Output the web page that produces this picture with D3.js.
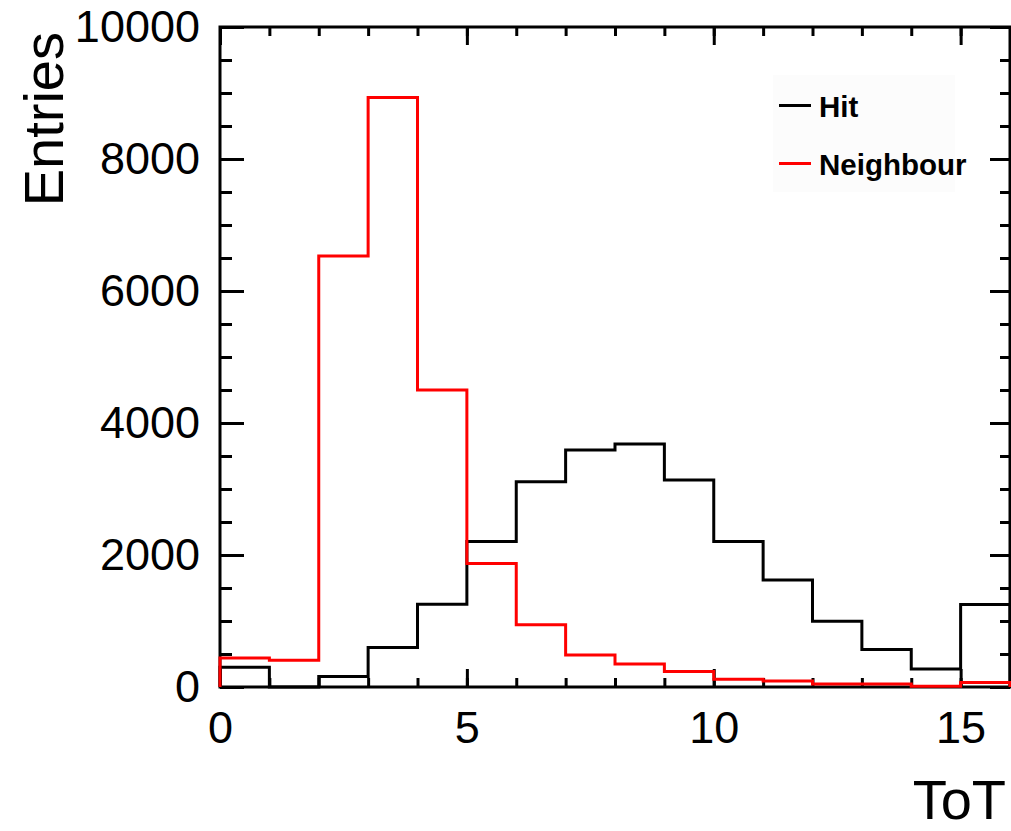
<!DOCTYPE html>
<meta charset="utf-8">
<head>
  <style>
    body { margin: 0; background: #fff; }
    .tick text { font-family: "Liberation Sans", Arial, Helvetica, sans-serif; font-size: 45px; fill: #000; }
    .tick line { stroke: #000; stroke-width: 3; }
    .title { font-family: "Liberation Sans", Arial, Helvetica, sans-serif; font-size: 56px; fill: #000; }
    .leg { font-family: "Liberation Sans", Arial, Helvetica, sans-serif; font-size: 29.5px; font-weight: bold; fill: #000; }
  </style>
  <script src="https://cdn.jsdelivr.net/npm/d3@7"></script>
</head>
<body>
  <svg width="1011" height="831"></svg>
  <script>

    // ToT bins 0..16, one entry per unit bin
    var binEdges = d3.range(0, 17);
    var hitCounts = [300, 0, 160, 600, 1255, 2205, 3110, 3590, 3680, 3135, 2205, 1620, 995, 570, 272, 1250];
    var neighbourCounts = [440, 405, 6530, 8930, 4500, 1870, 945, 485, 350, 235, 118, 90, 45, 45, 10, 70];

    var xMajor = [0, 5, 10, 15];
    var yMajor = [0, 2000, 4000, 6000, 8000, 10000];
    var xMinor = d3.range(0, 17);
    var yMinor = d3.range(0, 10001, 500);

    var seriesNames = ["Hit", "Neighbour"];
    var seriesColors = ["#000000", "#ff0000"];

    var svg = d3.select("svg");

    var x = d3.scaleLinear().domain([0, 16]).range([220, 1010]);
    var y = d3.scaleLinear().domain([0, 10000]).range([687, 27]);

    function clean(g) { g.select(".domain").remove(); }

    // bottom
    svg.append("g").attr("transform", "translate(0," + y(0) + ")")
      .call(d3.axisBottom(x).tickValues(xMinor).tickFormat("").tickSize(-9)).call(clean);
    svg.append("g").attr("transform", "translate(0," + y(0) + ")")
      .call(d3.axisBottom(x).tickValues(xMajor).tickFormat(d3.format("d")).tickSize(-18).tickPadding(24)).call(clean);
    // top
    svg.append("g").attr("transform", "translate(0," + y(10000) + ")")
      .call(d3.axisTop(x).tickValues(xMinor).tickFormat("").tickSize(-9)).call(clean);
    svg.append("g").attr("transform", "translate(0," + y(10000) + ")")
      .call(d3.axisTop(x).tickValues(xMajor).tickFormat("").tickSize(-18)).call(clean);
    // left
    svg.append("g").attr("transform", "translate(" + x(0) + ",0)")
      .call(d3.axisLeft(y).tickValues(yMinor).tickFormat("").tickSize(-12)).call(clean);
    svg.append("g").attr("transform", "translate(" + x(0) + ",0)")
      .call(d3.axisLeft(y).tickValues(yMajor).tickFormat(d3.format("d")).tickSize(-24).tickPadding(20)).call(clean);
    // right
    svg.append("g").attr("transform", "translate(" + x(16) + ",0)")
      .call(d3.axisRight(y).tickValues(yMinor).tickFormat("").tickSize(-10)).call(clean);
    svg.append("g").attr("transform", "translate(" + x(16) + ",0)")
      .call(d3.axisRight(y).tickValues(yMajor).tickFormat("").tickSize(-20)).call(clean);

    svg.append("rect")
      .attr("x", x(0)).attr("y", y(10000))
      .attr("width", x(16) - x(0)).attr("height", y(0) - y(10000))
      .attr("fill", "none").attr("stroke", "#000").attr("stroke-width", 3);

    // histograms as step outlines
    function stepPoints(counts) {
      var pts = [[binEdges[0], 0]];
      counts.forEach(function(c, i) {
        pts.push([binEdges[i], c]);
        pts.push([binEdges[i + 1], c]);
      });
      pts.push([binEdges[counts.length], 0]);
      return pts;
    }

    var line = d3.line()
      .x(function(d) { return x(d[0]); })
      .y(function(d) { return y(d[1]); });

    [hitCounts, neighbourCounts].forEach(function(counts, i) {
      svg.append("path")
        .datum(stepPoints(counts))
        .attr("fill", "none")
        .attr("stroke", seriesColors[i])
        .attr("stroke-width", 3)
        .attr("stroke-linejoin", "miter")
        .attr("d", line);
    });

    // legend
    var leg = svg.append("g");
    leg.append("rect")
      .attr("x", 773).attr("y", 75).attr("width", 182).attr("height", 117)
      .attr("fill", "#fcfcfc");
    seriesNames.forEach(function(name, i) {
      var ly = 105.5 + i * 58;
      leg.append("line")
        .attr("x1", 779).attr("x2", 811).attr("y1", ly).attr("y2", ly)
        .attr("stroke", seriesColors[i]).attr("stroke-width", 3);
      leg.append("text")
        .attr("class", "leg")
        .attr("x", 819).attr("y", ly + 11)
        .text(name);
    });

    // axis titles
    svg.append("text")
      .attr("class", "title")
      .attr("text-anchor", "end")
      .attr("x", 1006).attr("y", 819)
      .text("ToT");

    svg.append("text")
      .attr("class", "title")
      .attr("text-anchor", "end")
      .attr("transform", "translate(63,32) rotate(-90)")
      .text("Entries");

  </script>
</body>
